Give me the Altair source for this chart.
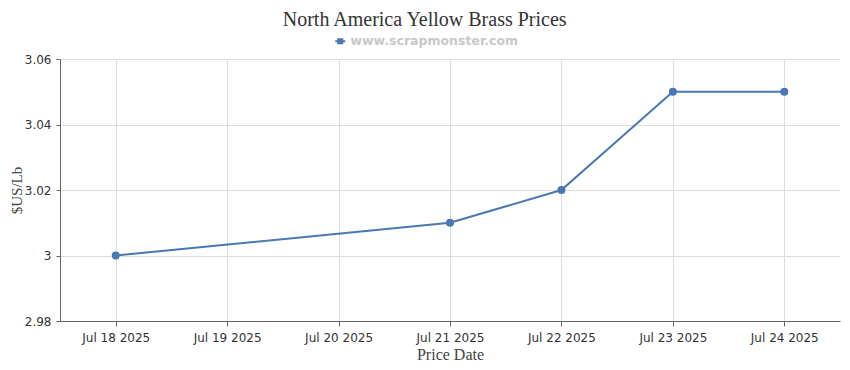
import altair as alt
import pandas as pd

dates = ["2025-07-18T00:00:00", "2025-07-21T00:00:00", "2025-07-22T00:00:00",
         "2025-07-23T00:00:00", "2025-07-24T00:00:00"]
prices = [3.00, 3.01, 3.02, 3.05, 3.05]
series = ["www.scrapmonster.com"] * len(dates)
tick_days = [18, 19, 20, 21, 22, 23, 24]
y_ticks = [2.98, 3.00, 3.02, 3.04, 3.06]

df = pd.DataFrame({"date": dates, "price": prices, "series": series})

blue = "#4a78b4"
x = alt.X(
    "date:T",
    title="Price Date",
    scale=alt.Scale(domain=[alt.DateTime(year=2025, month=7, date=17, hours=12),
                            alt.DateTime(year=2025, month=7, date=24, hours=12)]),
    axis=alt.Axis(
        values=[alt.DateTime(year=2025, month=7, date=d) for d in tick_days],
        format="%b %d %Y",
        labelFont="DejaVu Sans", labelFontSize=12, labelColor="#333333",
        labelPadding=6,
        titleFont="Liberation Serif", titleFontSize=16, titleFontWeight="normal",
        titleColor="#444444", titlePadding=3,
        domainColor="#666666", tickColor="#666666", tickSize=5,
        gridColor="#dddddd",
    ),
)
y = alt.Y(
    "price:Q",
    title="$US/Lb",
    scale=alt.Scale(domain=[2.98, 3.06], nice=False, zero=False),
    axis=alt.Axis(
        values=y_ticks, format="~g",
        labelFont="DejaVu Sans", labelFontSize=12, labelColor="#333333",
        labelPadding=5,
        titleFont="Liberation Serif", titleFontSize=15, titleFontWeight="normal",
        titleColor="#444444", titlePadding=0,
        domainColor="#666666", tickColor="#666666", tickSize=4,
        gridColor="#dddddd",
    ),
)
color = alt.Color(
    "series:N",
    scale=alt.Scale(range=[blue]),
    legend=alt.Legend(
        title=None, orient="none", legendX=274, legendY=-24, labelLimit=0,
        symbolType="M-1,0L1,0M-0.4,-0.4L0.4,-0.4L0.4,0.4L-0.4,0.4Z",
        symbolStrokeWidth=2, symbolSize=100, symbolFillColor=blue, symbolStrokeColor=blue,
        labelFont="DejaVu Sans", labelFontSize=12.5, labelFontWeight="bold",
        labelColor="#c8c8c8",
    ),
)

line = alt.Chart(df).mark_line(strokeWidth=2).encode(x=x, y=y, color=color)
pts = alt.Chart(df).mark_point(filled=True, size=64, opacity=1).encode(
    x=x, y=y, color=alt.Color("series:N", scale=alt.Scale(range=[blue]), legend=None))

chart = alt.layer(line, pts).properties(
    width=780, height=262,
    title=alt.Title("North America Yellow Brass Prices", font="Liberation Serif",
                    fontSize=20, fontWeight="normal", color="#333333", anchor="middle",
                    frame="bounds", offset=5),
    autosize=alt.AutoSizeParams(type="none"),
    padding={"left": 52, "top": 51, "right": 2, "bottom": 40},
).configure_view(stroke=None)

chart.save("out.html", embed_options={"renderer": "svg", "actions": False})
